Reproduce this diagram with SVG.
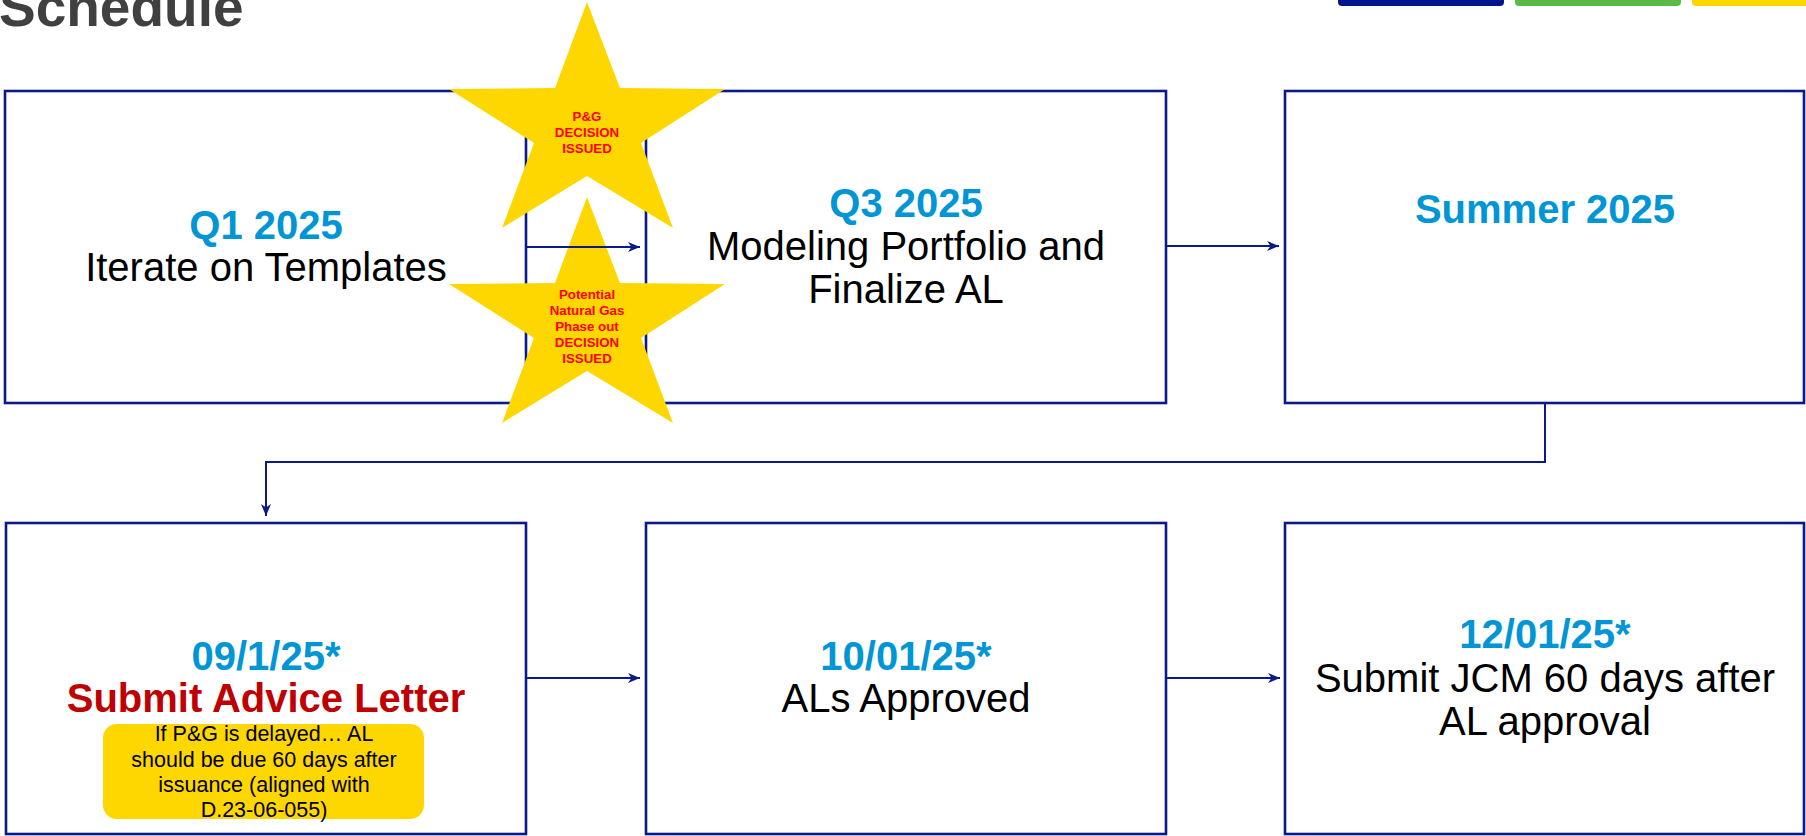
<svg xmlns="http://www.w3.org/2000/svg" width="1806" height="836" viewBox="0 0 1806 836">
<style>
.box{fill:#fff;stroke:#0A1A8A;stroke-width:2.6}
.t{font-family:"Liberation Sans",Arial,sans-serif;text-anchor:middle}
.hd{font-size:40px;font-weight:bold;fill:#0096D6}
.bd{font-size:40px;fill:#000}
.red{font-size:40px;font-weight:bold;fill:#C00000}
.note{font-size:21.5px;fill:#000}
.star{fill:#FFD700}
.st{font-size:13.3px;font-weight:bold;fill:#FF0000}
.conn{fill:none;stroke:#0A1A8A;stroke-width:2}
</style>
<defs>
<marker id="arr" markerUnits="userSpaceOnUse" markerWidth="14" markerHeight="10" refX="12" refY="5" orient="auto">
<path d="M0,0 L12,5 L0,10 L3.5,5 z" fill="#0A1A8A"/>
</marker>
<polygon id="starShape" points="587,2 620,88 725,89 641,143 673,228 587,176 502,228 534,143 449,89 555,88"/>
</defs>
<rect width="1806" height="836" fill="#fff"/>
<text x="-1" y="26" style="font-family:'Liberation Sans',Arial,sans-serif;font-size:55px;font-weight:bold;fill:#404040">Schedule</text>
<g id="bars">
<rect x="1338" y="-6" width="166" height="12" rx="4" fill="#00188C"/>
<rect x="1515" y="-6" width="166" height="12" rx="4" fill="#5BB947"/>
<rect x="1692" y="-6" width="130" height="12" rx="4" fill="#FFD700"/>
</g>
<g id="n1">
<rect class="box" x="5" y="91" width="521" height="312"/>
<text class="t hd" x="266" y="239">Q1 2025</text>
<text class="t bd" x="266" y="281">Iterate on Templates</text>
</g>
<g id="n2">
<rect class="box" x="646" y="91" width="520" height="312"/>
<text class="t hd" x="906" y="217">Q3 2025</text>
<text class="t bd" x="906" y="260">Modeling Portfolio and</text>
<text class="t bd" x="906" y="303">Finalize AL</text>
</g>
<g id="n3">
<rect class="box" x="1285" y="91" width="519" height="312"/>
<text class="t hd" x="1545" y="223">Summer 2025</text>
</g>
<g id="n4">
<rect class="box" x="6" y="523" width="520" height="311"/>
<text class="t hd" x="266" y="670">09/1/25*</text>
<text class="t red" x="266" y="712">Submit Advice Letter</text>
<rect x="103" y="724" width="321" height="95" rx="14" fill="#FFD700"/>
<text class="t note" x="264" y="741">If P&amp;G is delayed… AL</text>
<text class="t note" x="264" y="767">should be due 60 days after</text>
<text class="t note" x="264" y="792">issuance (aligned with</text>
<text class="t note" x="264" y="817">D.23-06-055)</text>
</g>
<g id="n5">
<rect class="box" x="646" y="523" width="520" height="311"/>
<text class="t hd" x="906" y="670">10/01/25*</text>
<text class="t bd" x="906" y="712">ALs Approved</text>
</g>
<g id="n6">
<rect class="box" x="1285" y="523" width="519" height="311"/>
<text class="t hd" x="1545" y="648">12/01/25*</text>
<text class="t bd" x="1545" y="692">Submit JCM 60 days after</text>
<text class="t bd" x="1545" y="735">AL approval</text>
</g>
<g id="star1">
<use href="#starShape" class="star"/>
<text class="t st" x="587" y="121">P&amp;G</text>
<text class="t st" x="587" y="137">DECISION</text>
<text class="t st" x="587" y="153">ISSUED</text>
</g>
<g id="star2">
<use href="#starShape" class="star" transform="translate(0,195)"/>
</g>
<g id="connectors">
<path class="conn" d="M526,247 H640" marker-end="url(#arr)"/>
<path class="conn" d="M1166,246 H1279" marker-end="url(#arr)"/>
<path class="conn" d="M1545,403 V462 H266 V516" marker-end="url(#arr)"/>
<path class="conn" d="M526,678 H640" marker-end="url(#arr)"/>
<path class="conn" d="M1166,678 H1280" marker-end="url(#arr)"/>
</g>
<g id="star2text">
<text class="t st" x="587" y="299">Potential</text>
<text class="t st" x="587" y="315">Natural Gas</text>
<text class="t st" x="587" y="331">Phase out</text>
<text class="t st" x="587" y="347">DECISION</text>
<text class="t st" x="587" y="363">ISSUED</text>
</g>
</svg>
